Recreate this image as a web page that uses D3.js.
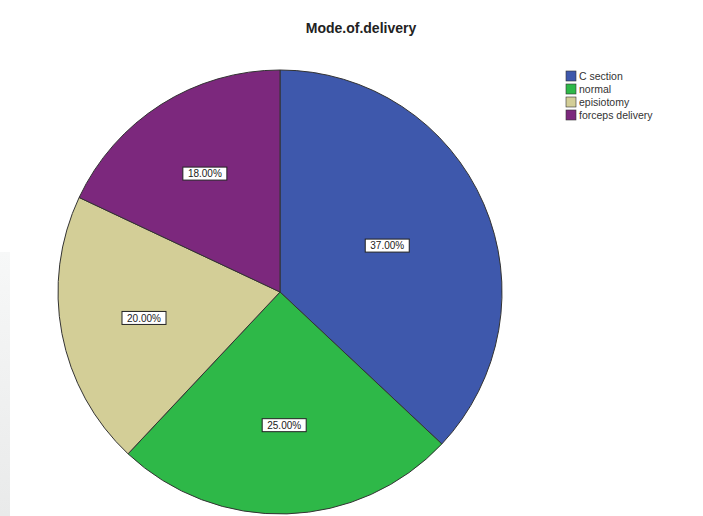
<!DOCTYPE html>
<html>
<head>
<meta charset="utf-8">
<script src="https://cdn.jsdelivr.net/npm/d3@7"></script>
<style>
body{margin:0;background:#fff;}
svg{display:block;}
</style>
</head>
<body>
<svg id="chart" width="703" height="516"></svg>
<script>
const categories = ["C section", "normal", "episiotomy", "forceps delivery"];
const values = [37, 25, 20, 18];
const valueLabels = ["37.00%", "25.00%", "20.00%", "18.00%"];
const colors = ["#3E58AC", "#2EB848", "#D3CE97", "#7C287D"];
const title = "Mode.of.delivery";

const svg = d3.select("#chart");
const cx = 280, cy = 292, r = 222;

// faint grey strip on left edge
const defs = svg.append("defs");
const grad = defs.append("linearGradient").attr("id","lg").attr("x1",0).attr("y1",0).attr("x2",0).attr("y2",1);
grad.append("stop").attr("offset","0%").attr("stop-color","#f7f8f8");
grad.append("stop").attr("offset","100%").attr("stop-color","#e9eaea");
svg.append("rect").attr("x",0).attr("y",252).attr("width",10).attr("height",264).attr("fill","url(#lg)");

svg.append("text")
  .attr("x", 361).attr("y", 33)
  .attr("text-anchor","middle")
  .attr("font-family","Arial, 'Liberation Sans', sans-serif")
  .attr("font-weight","bold")
  .attr("font-size", 14)
  .attr("fill","#222")
  .text(title);

const pie = d3.pie().sort(null).value(d => d)(values);
const arc = d3.arc().innerRadius(0).outerRadius(r);

// geometric centroid of each sector
function sectorCentroid(d) {
  const half = (d.endAngle - d.startAngle) / 2;
  const mid = d.startAngle + half;
  const dist = 2 * r * Math.sin(half) / (3 * half);
  return [Math.sin(mid) * dist, -Math.cos(mid) * dist];
}

const g = svg.append("g").attr("transform", `translate(${cx},${cy})`);
g.selectAll("path.slice").data(pie).enter().append("path")
  .attr("class","slice")
  .attr("d", arc)
  .attr("fill", (d,i) => colors[i])
  .attr("stroke", "#333")
  .attr("stroke-width", 1);

const lab = g.selectAll("g.lab").data(pie).enter().append("g")
  .attr("class","lab")
  .attr("transform", d => { const c = sectorCentroid(d); return `translate(${c[0]},${c[1]})`; });
lab.append("rect")
  .attr("x",-22).attr("y",-6.5).attr("width",44).attr("height",13)
  .attr("fill","#fff").attr("stroke","#222").attr("stroke-width",1);
lab.append("text")
  .attr("text-anchor","middle").attr("dy","0.36em")
  .attr("font-family","Arial, 'Liberation Sans', sans-serif")
  .attr("font-size", 10).attr("fill","#222")
  .text((d,i) => valueLabels[i]);

const leg = svg.append("g").attr("transform","translate(566,71)");
const items = leg.selectAll("g").data(categories).enter().append("g")
  .attr("transform",(d,i)=>`translate(0,${i*13})`);
items.append("rect").attr("width",10).attr("height",10)
  .attr("fill",(d,i)=>colors[i]).attr("stroke","#333").attr("stroke-width",0.6);
items.append("text").attr("x",13).attr("y",9)
  .attr("font-family","Arial, 'Liberation Sans', sans-serif")
  .attr("font-size",10.5).attr("fill","#333")
  .text(d=>d);
</script>
</body>
</html>
